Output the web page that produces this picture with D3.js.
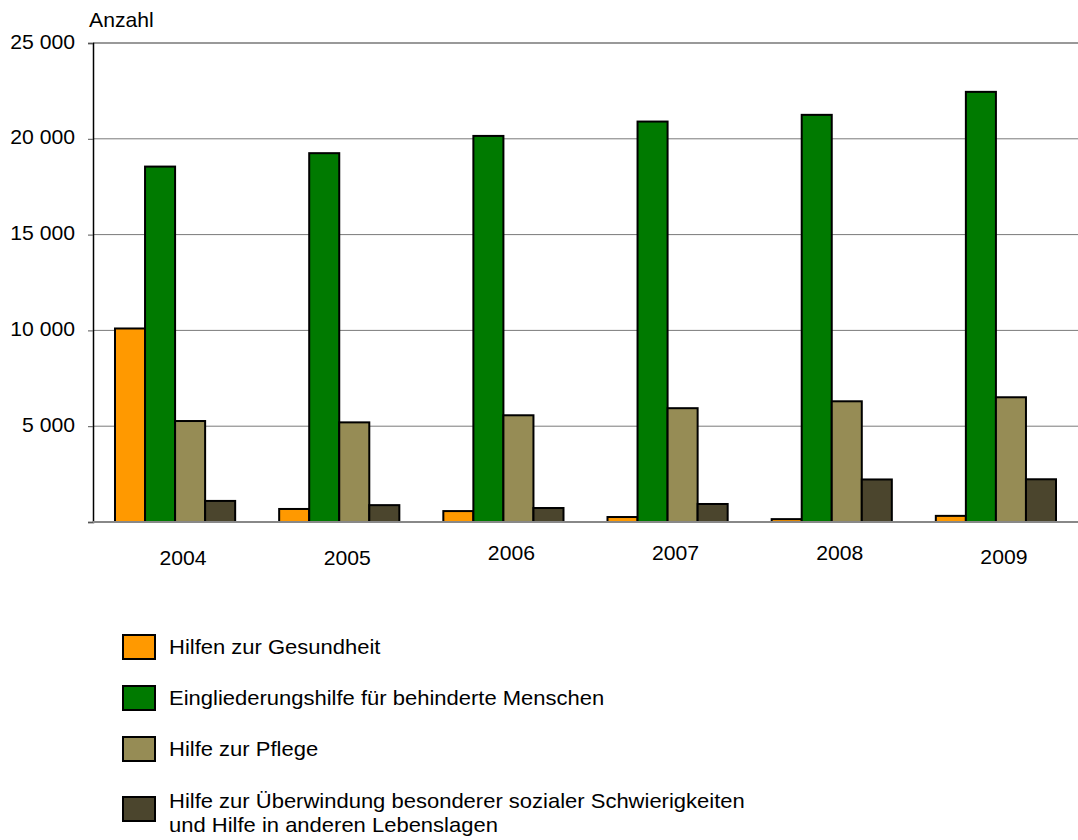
<!DOCTYPE html>
<html>
<head>
<meta charset="utf-8">
<script src="https://cdn.jsdelivr.net/npm/d3@7"></script>
<style>
  body { margin: 0; background: #fff; }
  svg text { font-family: "Liberation Sans", Arial, sans-serif; fill: #000; }
</style>
</head>
<body>
<svg id="chart" width="1078" height="840"></svg>
<script>
// data
var years = ["2004", "2005", "2006", "2007", "2008", "2009"]
var seriesNames = [
  "Hilfen zur Gesundheit",
  "Eingliederungshilfe für behinderte Menschen",
  "Hilfe zur Pflege",
  "Hilfe zur Überwindung besonderer sozialer Schwierigkeiten|und Hilfe in anderen Lebenslagen"
]
var gesundheit   = [10100, 680, 570, 260, 150, 320]
var eingliederung = [18550, 19250, 20150, 20900, 21250, 22450]
var pflege       = [5270, 5200, 5570, 5940, 6300, 6510]
var ueberwindung = [1100, 880, 730, 940, 2220, 2230]
var yTicks = [0, 5000, 10000, 15000, 20000, 25000]
var colors = ["#ff9900", "#007a00", "#968c55", "#4b452d"]

var allSeries = [gesundheit, eingliederung, pflege, ueberwindung]

var margin = {top: 43, left: 93, right: 0, bottom: 318}
var width = 1078 - margin.left - margin.right
var height = 840 - margin.top - margin.bottom

// the source font runs a little wider than Liberation Sans
var stretchAxis = 1.06, stretchLegend = 1.1
var fontSize = "20px"

var svg = d3.select("#chart")
var g = svg.append("g").attr("transform", "translate(" + margin.left + "," + margin.top + ")")

var x0 = d3.scaleBand().domain(years).range([0, width]).paddingInner(0.268).paddingOuter(0.134)
var x1 = d3.scaleBand().domain(d3.range(4)).range([0, x0.bandwidth()])
var y = d3.scaleLinear().domain([0, 25000]).range([height, 0])

// grid lines
g.selectAll(".grid")
  .data(yTicks.filter(function (d) { return d > 0 && d < 25000 }))
  .enter().append("line")
  .attr("x1", 0).attr("x2", width)
  .attr("y1", function (d) { return y(d) }).attr("y2", function (d) { return y(d) })
  .attr("stroke", "#7a7a7a").attr("stroke-width", 1)

// top border
g.append("line").attr("x1", 0).attr("x2", width).attr("y1", y(25000)).attr("y2", y(25000))
  .attr("stroke", "#999").attr("stroke-width", 2)

// y axis
var fmt = function (d) { return d3.format(",")(d).replace(/,/g, " ") }
var yAxis = g.append("g")
  .call(d3.axisLeft(y).tickValues(yTicks).tickSize(5).tickPadding(0).tickFormat(function (d) { return d === 0 ? "" : fmt(d) }))
yAxis.select(".domain").attr("stroke", "#000").attr("stroke-width", 1.5)
yAxis.selectAll(".tick line").attr("stroke", "#555")
yAxis.selectAll("text")
  .attr("x", 0)
  .attr("dy", "0.25em")
  .attr("transform", "translate(-18,0) scale(" + stretchAxis + ",1)")
  .attr("font-family", "Liberation Sans, Arial, sans-serif")
  .style("font-size", fontSize)

// bars
var groups = g.selectAll(".year")
  .data(years)
  .enter().append("g")
  .attr("transform", function (d) { return "translate(" + x0(d) + ",0)" })

groups.selectAll("rect")
  .data(function (d, i) { return allSeries.map(function (s, k) { return {k: k, v: s[i]} }) })
  .enter().append("rect")
  .attr("x", function (d) { return x1(d.k) })
  .attr("width", x1.bandwidth())
  .attr("y", function (d) { return y(d.v) })
  .attr("height", function (d) { return height - y(d.v) })
  .attr("fill", function (d) { return colors[d.k] })
  .attr("stroke", "#000").attr("stroke-width", 2)

// baseline
g.append("line").attr("x1", 0).attr("x2", width).attr("y1", height).attr("y2", height)
  .attr("stroke", "#888").attr("stroke-width", 2)

// x labels (the source places them at slightly uneven heights)
var labelDy = [43, 43, 38, 38, 38, 42]
g.selectAll(".xl")
  .data(years)
  .enter().append("text")
  .attr("transform", function (d, i) {
    return "translate(" + (x0(d) + x0.bandwidth() / 2 + 8) + "," + (height + labelDy[i]) + ") scale(" + stretchAxis + ",1)"
  })
  .attr("text-anchor", "middle")
  .style("font-size", fontSize)
  .text(function (d) { return d })

// axis title
svg.append("text").attr("transform", "translate(89,27) scale(" + stretchAxis + ",1)")
  .style("font-size", fontSize).text("Anzahl")

// legend
var legendY = [647, 698, 749, 809]
var legend = svg.selectAll(".lg")
  .data(seriesNames)
  .enter().append("g")
  .attr("transform", function (d, i) { return "translate(123," + legendY[i] + ")" })

legend.append("rect")
  .attr("x", 0).attr("y", -12).attr("width", 32).attr("height", 24)
  .attr("fill", function (d, i) { return colors[i] })
  .attr("stroke", "#000").attr("stroke-width", 2)

legend.each(function (d, i) {
  var lines = d.split("|")
  var t = d3.select(this).append("text")
    .attr("transform", "translate(46,0) scale(" + stretchLegend + ",1)")
    .style("font-size", fontSize)
  lines.forEach(function (l, j) {
    t.append("tspan").attr("x", 0).attr("y", (j === 0 ? (lines.length > 1 ? -1 : 7) : 23)).text(l)
  })
})
</script>
</body>
</html>
